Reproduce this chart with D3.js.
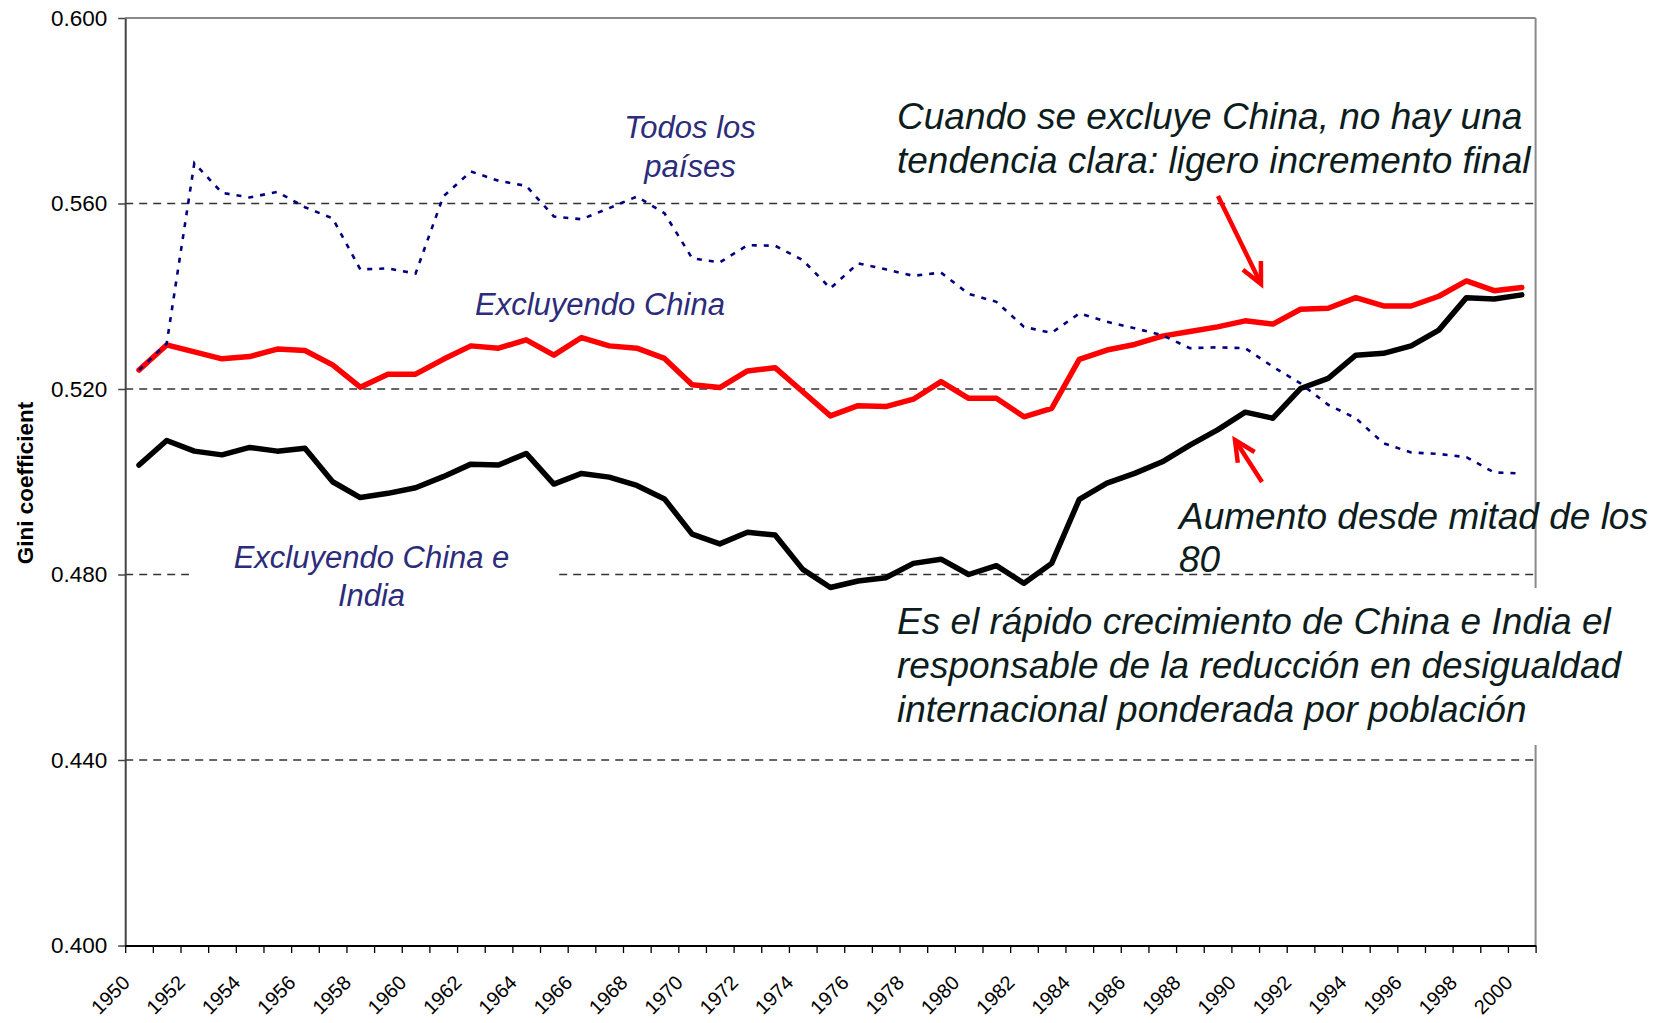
<!DOCTYPE html>
<html>
<head>
<meta charset="utf-8">
<script src="https://cdn.jsdelivr.net/npm/d3@7"></script>
<style>
  html, body { margin: 0; padding: 0; background: #fff; }
  svg { display: block; font-family: "Liberation Sans", Arial, sans-serif; }
</style>
</head>
<body>
<svg id="chart" width="1664" height="1023"></svg>
<script>
// ---------- DATA ----------
const years = d3.range(1950, 2001);
const yearLabels = d3.range(1950, 2001, 2);
const yTicks = [0.400, 0.440, 0.480, 0.520, 0.560, 0.600];

const todosLosPaises = [
  0.5241, 0.5298, 0.5687, 0.5623, 0.5613, 0.5625, 0.5592, 0.5568, 0.5458, 0.5460,
  0.5449, 0.5615, 0.5669, 0.5649, 0.5638, 0.5572, 0.5566, 0.5590, 0.5615, 0.5579,
  0.5482, 0.5473, 0.5510, 0.5509, 0.5478, 0.5417, 0.5471, 0.5458, 0.5444, 0.5451,
  0.5405, 0.5388, 0.5334, 0.5321, 0.5363, 0.5345, 0.5331, 0.5316, 0.5288, 0.5290,
  0.5288, 0.5248, 0.5212, 0.5166, 0.5137, 0.5083, 0.5063, 0.5060, 0.5053, 0.5020,
  0.5018
];
const excluyendoChina = [
  0.5241, 0.5295, 0.5280, 0.5265, 0.5270, 0.5286, 0.5283, 0.5252, 0.5204, 0.5232,
  0.5232, 0.5264, 0.5293, 0.5288, 0.5306, 0.5273, 0.5311, 0.5293, 0.5288, 0.5266,
  0.5209, 0.5203, 0.5239, 0.5246, 0.5194, 0.5142, 0.5164, 0.5162, 0.5178, 0.5216,
  0.5180, 0.5180, 0.5140, 0.5158, 0.5264, 0.5284, 0.5296, 0.5314, 0.5324, 0.5334,
  0.5347, 0.5340, 0.5372, 0.5374, 0.5397, 0.5379, 0.5379, 0.5400, 0.5433, 0.5412,
  0.5419
];
const excluyendoChinaIndia = [
  0.5036, 0.5089, 0.5066, 0.5058, 0.5074, 0.5066, 0.5072, 0.5000, 0.4966, 0.4975,
  0.4987, 0.5011, 0.5038, 0.5036, 0.5061, 0.4995, 0.5018, 0.5010, 0.4992, 0.4963,
  0.4887, 0.4866, 0.4891, 0.4885, 0.4811, 0.4772, 0.4786, 0.4793, 0.4824, 0.4833,
  0.4800, 0.4819, 0.4781, 0.4824, 0.4962, 0.4997, 0.5018, 0.5043, 0.5079, 0.5112,
  0.5150, 0.5137, 0.5201, 0.5223, 0.5273, 0.5277, 0.5293, 0.5327, 0.5397, 0.5394,
  0.5403
];

// ---------- LAYOUT ----------
const svg = d3.select("#chart");
const L = 125.2, R = 1535.6, T = 18, B = 945.5;
const x = d3.scaleLinear().domain([1949.5, 2000.5]).range([L, R]);
const y = d3.scaleLinear().domain([0.4, 0.6]).range([B, T]);

// gridlines
svg.append("g").selectAll("line")
  .data(yTicks.filter(v => v > 0.4 && v < 0.6))
  .join("line")
  .attr("x1", L).attr("x2", R)
  .attr("y1", d => y(d)).attr("y2", d => y(d))
  .attr("stroke", "#333").attr("stroke-width", 1.3)
  .attr("stroke-dasharray", "8,6");

// plot border (top & right)
svg.append("line").attr("x1", L).attr("x2", R).attr("y1", y(0.6)).attr("y2", y(0.6))
  .attr("stroke", "#8a8a8a").attr("stroke-width", 2);
svg.append("line").attr("x1", R).attr("x2", R).attr("y1", T).attr("y2", B)
  .attr("stroke", "#8a8a8a").attr("stroke-width", 2);

// series
const line = d3.line().x((d, i) => x(years[i])).y(d => y(d));
svg.append("path").datum(excluyendoChinaIndia).attr("d", line)
  .attr("fill", "none").attr("stroke", "#000").attr("stroke-width", 5.5)
  .attr("stroke-linejoin", "round").attr("stroke-linecap", "round");
svg.append("path").datum(excluyendoChina).attr("d", line)
  .attr("fill", "none").attr("stroke", "#ff0000").attr("stroke-width", 5.5)
  .attr("stroke-linejoin", "round").attr("stroke-linecap", "round");
svg.append("path").datum(todosLosPaises).attr("d", line)
  .attr("fill", "none").attr("stroke", "#000080").attr("stroke-width", 2.6)
  .attr("stroke-dasharray", "5,7");

// white boxes behind text labels
svg.append("rect").attr("x", 189).attr("y", 540).attr("width", 365).attr("height", 76).attr("fill", "#fff");
svg.append("rect").attr("x", 890).attr("y", 588).attr("width", 770).attr("height", 157).attr("fill", "#fff");

// y axis
const yAxis = d3.axisLeft(y).tickValues(yTicks).tickFormat(d3.format(".3f")).tickSize(7).tickSizeOuter(0);
const gy = svg.append("g").attr("transform", `translate(${L},0)`).call(yAxis);
gy.select(".domain").attr("stroke", "#444").attr("stroke-width", 2);
gy.selectAll(".tick line").attr("stroke", "#444").attr("stroke-width", 1.5);
gy.selectAll(".tick text").attr("font-size", 22.5).attr("fill", "#000")
  .attr("font-family", "Liberation Sans, Arial, sans-serif").attr("x", -18);

// x axis: ticks at category boundaries
const boundaries = d3.range(1949.5, 2001, 1);
const xAxis = d3.axisBottom(x).tickValues(boundaries).tickFormat("").tickSize(7.5).tickSizeOuter(0);
const gx = svg.append("g").attr("transform", `translate(0,${B})`).call(xAxis);
gx.select(".domain").attr("stroke", "#000").attr("stroke-width", 2.2);
gx.selectAll(".tick line").attr("stroke", "#000").attr("stroke-width", 1.3);

// x labels rotated
svg.append("g").selectAll("text")
  .data(yearLabels)
  .join("text")
  .attr("transform", d => `translate(${x(d) - 8},${984}) rotate(-45)`)
  .attr("text-anchor", "end")
  .attr("font-size", 20)
  .attr("fill", "#000")
  .text(d => d);

// y axis title
svg.append("text")
  .attr("transform", "translate(33,483) rotate(-90)")
  .attr("text-anchor", "middle")
  .attr("font-size", 22.5).attr("font-weight", "bold").attr("fill", "#000")
  .text("Gini coefficient");

// series labels (navy italic)
const navy = "#2c2c7a";
function multiText(lines, cx, y0, dy, size, color, anchor) {
  const t = svg.append("text").attr("font-size", size).attr("font-style", "italic")
    .attr("fill", color).attr("text-anchor", anchor);
  lines.forEach((s, i) => t.append("tspan").attr("x", cx).attr("y", y0 + i * dy).text(s));
}
multiText(["Todos los", "países"], 690, 138, 39, 31, navy, "middle");
multiText(["Excluyendo China"], 600, 315, 0, 31, navy, "middle");
multiText(["Excluyendo China e", "India"], 371.5, 568, 37.5, 31, navy, "middle");

// dark annotations
const dark = "#0d1c1c";
multiText(["Cuando se excluye China, no hay una", "tendencia clara: ligero incremento final"], 897, 128.5, 44.8, 37, dark, "start");
multiText(["Aumento desde mitad de los", "80"], 1179, 528.5, 43.5, 37, dark, "start");
multiText(["Es el rápido crecimiento de China e India el",
           "responsable de la reducción en desigualdad",
           "internacional ponderada por población"], 897, 633.5, 44, 37, dark, "start");

// arrows
function arrow(x1, y1, x2, y2) {
  const ang = Math.atan2(y2 - y1, x2 - x1);
  const len = 23, spread = 0.45;
  const a1 = [x2 - len * Math.cos(ang - spread), y2 - len * Math.sin(ang - spread)];
  const a2 = [x2 - len * Math.cos(ang + spread), y2 - len * Math.sin(ang + spread)];
  const g = svg.append("g").attr("stroke", "#ff0000").attr("stroke-width", 4.5)
    .attr("fill", "none").attr("stroke-linecap", "butt").attr("stroke-linejoin", "miter");
  g.append("line").attr("x1", x1).attr("y1", y1).attr("x2", x2).attr("y2", y2);
  g.append("path").attr("d", `M${a1[0]},${a1[1]}L${x2},${y2}L${a2[0]},${a2[1]}`);
}
arrow(1218, 196, 1261, 284);
arrow(1262, 482, 1235, 440);
</script>
</body>
</html>
